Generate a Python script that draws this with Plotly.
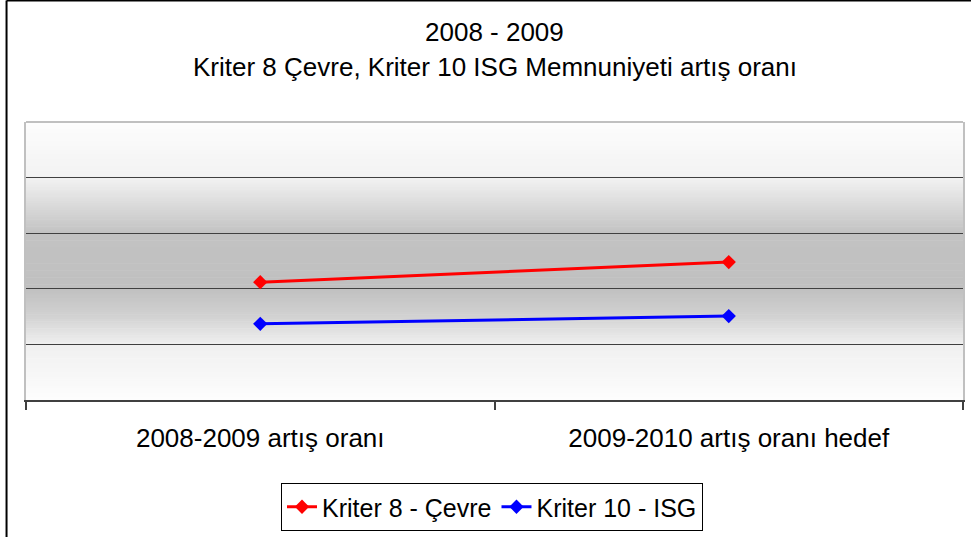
import numpy as np
import plotly.graph_objects as go

# ---- data ----
categories = ["2008-2009 artış oranı", "2009-2010 artış oranı hedef"]
kriter8_cevre = [2.12, 2.48]
kriter10_isg = [1.37, 1.51]
series_names = ["Kriter 8 - Çevre", "Kriter 10 - ISG"]
title_lines = ["2008 - 2009", "Kriter 8 Çevre, Kriter 10 ISG Memnuniyeti artış oranı"]

FONT = "Liberation Sans, Arial, sans-serif"
W, H = 971, 537
ML, MR, MT, MB = 26, 6, 122, 137
PW, PH = W - ML - MR, H - MT - MB


def py(page_y):
    """page pixel y -> paper fraction"""
    return (MT + PH - page_y) / PH


def px(page_x):
    return (page_x - ML) / PW


fig = go.Figure()
fig.add_trace(go.Scatter(x=categories, y=kriter8_cevre, name=series_names[0],
                         mode="lines+markers",
                         line=dict(color="#ff0000", width=3),
                         marker=dict(symbol="diamond", size=11, color="#ff0000")))
fig.add_trace(go.Scatter(x=categories, y=kriter10_isg, name=series_names[1],
                         mode="lines+markers",
                         line=dict(color="#0000ff", width=3),
                         marker=dict(symbol="diamond", size=11, color="#0000ff")))

# background gradient (white -> gray -> white), drawn as thin bands
shapes = []
n = 120
tp = [0.0, 0.2, 0.3, 0.4, 0.6, 0.7, 0.8, 1.0]
gp = [253, 242, 218, 194, 192, 210, 240, 253]
for i in range(n):
    t0, t1 = i / n, (i + 1) / n
    g = int(round(np.interp((t0 + t1) / 2, tp, gp)))
    c = f"rgb({g},{g},{g})"
    shapes.append(dict(type="rect", xref="x domain", yref="y domain",
                       x0=0, x1=1, y0=1 - t1 - 0.002, y1=1 - t0,
                       fillcolor=c, line=dict(width=0), layer="below"))
# top border of plot area
shapes.append(dict(type="line", xref="x domain", yref="y domain", x0=0, x1=1, y0=1, y1=1,
                   line=dict(color="#c0c0c0", width=2)))
# outer chart border (left and top visible)
shapes.append(dict(type="line", xref="paper", yref="paper", x0=px(6.5), x1=px(6.5),
                   y0=py(H + 2), y1=py(0.5), line=dict(color="#000000", width=2)))
shapes.append(dict(type="line", xref="paper", yref="paper", x0=px(6.5), x1=px(W + 2),
                   y0=py(0.5), y1=py(0.5), line=dict(color="#000000", width=2)))

annotations = [
    dict(text=title_lines[0], xref="paper", yref="paper", x=px(496), y=py(32),
         xanchor="center", yanchor="middle", showarrow=False,
         font=dict(family=FONT, size=26, color="#000000")),
    dict(text=title_lines[1], xref="paper", yref="paper", x=px(496), y=py(67),
         xanchor="center", yanchor="middle", showarrow=False,
         font=dict(family=FONT, size=26, color="#000000")),
]

fig.update_layout(
    width=W, height=H,
    margin=dict(l=ML, r=MR, t=MT, b=MB, pad=0),
    paper_bgcolor="#ffffff", plot_bgcolor="#ffffff",
    font=dict(family=FONT, size=25, color="#000000"),
    shapes=shapes, annotations=annotations,
    showlegend=True,
    legend=dict(orientation="h", x=px(493), xanchor="center",
                y=py(483), yanchor="top",
                bordercolor="#000000", borderwidth=1, bgcolor="#ffffff",
                font=dict(family=FONT, size=25, color="#000000"),
                itemwidth=30, tracegroupgap=0),
)
fig.update_xaxes(type="category", range=[-0.5, 1.5], showgrid=False,
                 showline=True, linecolor="#404040", linewidth=2,
                 ticks="outside", tickson="boundaries", ticklen=8,
                 tickcolor="#404040", tickwidth=2,
                 tickfont=dict(family=FONT, size=26, color="#000000"),
                 ticklabelstandoff=14, zeroline=False, fixedrange=True)
fig.update_yaxes(range=[0, 5], tickvals=[1, 2, 3, 4], showticklabels=False,
                 showgrid=True, gridcolor="#404040", gridwidth=1,
                 showline=True, linecolor="#c0c0c0", linewidth=2, mirror=True,
                 zeroline=False, ticks="", fixedrange=True)

fig.write_html("out.html", config={"displayModeBar": False},
               post_script="document.body.style.margin='0';document.body.style.overflow='hidden';")
